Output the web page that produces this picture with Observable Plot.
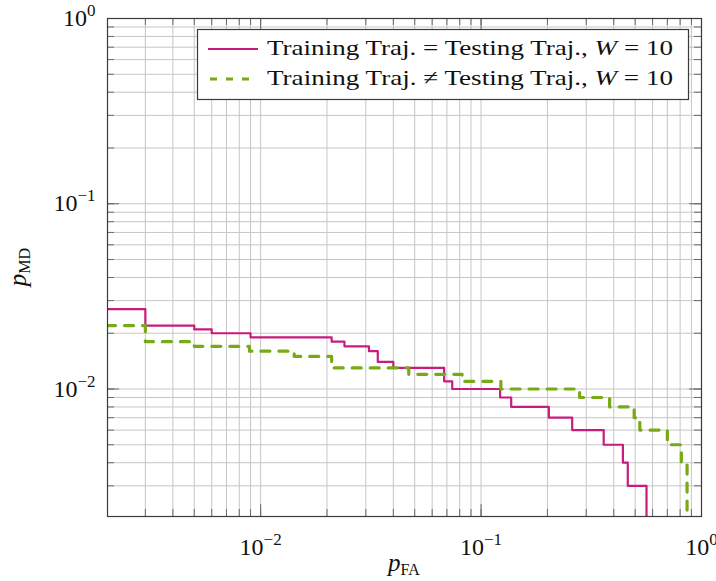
<!DOCTYPE html>
<html>
<head>
<meta charset="utf-8">
<script src="https://cdn.jsdelivr.net/npm/d3@7"></script>
<script src="https://cdn.jsdelivr.net/npm/@observablehq/plot@0.6"></script>
<style>
  html, body { margin: 0; padding: 0; background: #fff; }
  #chart { width: 716px; height: 581px; }
</style>
</head>
<body>
<div id="chart"></div>
<script>
// ---- data ----
const pfaSame = [0.002, 0.003, 0.005, 0.006, 0.009, 0.021, 0.024, 0.031, 0.034, 0.040, 0.068, 0.074, 0.122, 0.137, 0.203, 0.259, 0.36, 0.44, 0.463, 0.563];
const pmdSame = [0.027, 0.022, 0.021, 0.020, 0.019, 0.018, 0.017, 0.016, 0.014, 0.013, 0.011, 0.010, 0.009, 0.008, 0.007, 0.006, 0.005, 0.004, 0.003, 0.002];
const pfaDiff = [0.002, 0.003, 0.005, 0.0089, 0.0142, 0.021, 0.047, 0.082, 0.123, 0.28, 0.383, 0.495, 0.525, 0.70, 0.81, 0.86];
const pmdDiff = [0.022, 0.018, 0.017, 0.016, 0.015, 0.013, 0.012, 0.011, 0.010, 0.009, 0.008, 0.007, 0.006, 0.005, 0.004, 0.002];
const seriesNames = ["Training Traj. = Testing Traj., ", "Training Traj. \u2260 Testing Traj., "];
const seriesSuffix = ["W", " = 10"];
const majorTicks = [0.01, 0.1, 1];
const xDomain = [0.00202, 1];
const yDomain = [0.00205, 1];
const xLabel = ["p", "FA"];
const yLabel = ["p", "MD"];

// ---- styling ----
const W = 716, H = 581;
const mL = 107, mR = 15, mT = 18, mB = 65;
const pw = W - mL - mR, ph = H - mT - mB;
const colSame = "#c91b7d", colDiff = "#77aa14";
const gridColor = "#c6c6c6", tickColor = "#6a6a6a", frameColor = "#3a3a3a";
const font = "'Liberation Serif', 'DejaVu Serif', serif";

// grid values (1..9 x 10^e)
const gridX = [], gridY = [];
for (let e = -3; e <= 0; e++) for (let k = 1; k <= 9; k++) {
  const v = +(k * Math.pow(10, e)).toPrecision(6);
  if (v >= xDomain[0] && v <= xDomain[1]) gridX.push(v);
  if (v >= yDomain[0] && v <= yDomain[1]) gridY.push(v);
}

const rowsSame = pfaSame.map((x, i) => ({x, y: pmdSame[i]}));
const rowsDiff = pfaDiff.map((x, i) => ({x, y: pmdDiff[i]}));
const fmt = d => `10^${Math.round(Math.log10(d))}`;

const chart = Plot.plot({
  width: W, height: H,
  marginLeft: mL, marginRight: mR, marginTop: mT, marginBottom: mB,
  style: {fontFamily: font, background: "#fff", color: "#111"},
  x: {type: "log", domain: xDomain, label: null},
  y: {type: "log", domain: yDomain, label: null},
  marks: [
    Plot.ruleX(gridX, {stroke: gridColor, strokeWidth: 1}),
    Plot.ruleY(gridY, {stroke: gridColor, strokeWidth: 1}),
    // minor ticks (inside, all four sides)
    Plot.ruleX(gridX, {stroke: tickColor, insetTop: ph - 7}),
    Plot.ruleX(gridX, {stroke: tickColor, insetBottom: ph - 7}),
    Plot.ruleY(gridY, {stroke: tickColor, insetRight: pw - 7}),
    Plot.ruleY(gridY, {stroke: tickColor, insetLeft: pw - 7}),
    // major ticks
    Plot.ruleX(majorTicks, {stroke: tickColor, insetTop: ph - 12}),
    Plot.ruleX(majorTicks, {stroke: tickColor, insetBottom: ph - 12}),
    Plot.ruleY(majorTicks, {stroke: tickColor, insetRight: pw - 12}),
    Plot.ruleY(majorTicks, {stroke: tickColor, insetLeft: pw - 12}),
    Plot.line(rowsSame, {x: "x", y: "y", curve: "step-after", stroke: colSame, strokeWidth: 2.2, clip: true}),
    Plot.line(rowsDiff, {x: "x", y: "y", curve: "step-after", stroke: colDiff, strokeWidth: 3.2, strokeDasharray: "9,9", clip: true}),
    Plot.frame({stroke: frameColor, strokeWidth: 1.2}),
    Plot.axisX({ticks: majorTicks, tickSize: 0, tickPadding: 21, tickFormat: fmt, fontSize: 24, label: null}),
    Plot.axisY({ticks: majorTicks, tickSize: 0, tickPadding: 12, tickFormat: fmt, fontSize: 24, label: null})
  ]
});
document.getElementById("chart").appendChild(chart);

const svg = d3.select(chart);
// superscript exponents on tick labels
svg.selectAll('g[aria-label="x-axis tick label"] text, g[aria-label="y-axis tick label"] text').each(function() {
  const t = d3.select(this);
  const s = t.text();
  const m = s.match(/^10\^(-?\d+)$/);
  if (!m) return;
  t.text("");
  t.append("tspan").text("10");
  t.append("tspan").attr("dy", -10).attr("font-size", 17).text(m[1].replace("-", "\u2212"));
});

// axis labels
const xl = svg.append("text").attr("x", mL + pw / 2).attr("y", 571).attr("text-anchor", "middle")
  .attr("font-family", font).attr("font-size", 25).attr("fill", "#111");
xl.append("tspan").attr("font-style", "italic").text(xLabel[0]);
xl.append("tspan").attr("font-size", 16).attr("dy", 4).text(xLabel[1]);

const yl = svg.append("text").attr("transform", `translate(26,${mT + ph / 2}) rotate(-90)`).attr("text-anchor", "middle")
  .attr("font-family", font).attr("font-size", 25).attr("fill", "#111");
yl.append("tspan").attr("font-style", "italic").text(yLabel[0]);
yl.append("tspan").attr("font-size", 16).attr("dy", 4).text(yLabel[1]);

// legend
const lg = svg.append("g");
lg.append("rect").attr("x", 197.5).attr("y", 29.5).attr("width", 491).attr("height", 70)
  .attr("fill", "#fff").attr("stroke", frameColor).attr("stroke-width", 1.2);
const legendRows = [
  {y: 49, color: colSame, width: 2.2, dash: null},
  {y: 79, color: colDiff, width: 3.2, dash: "7,9"}
];
legendRows.forEach((r, i) => {
  lg.append("line").attr("x1", i ? 210 : 208).attr("x2", i ? 251 : 258).attr("y1", r.y).attr("y2", r.y)
    .attr("stroke", r.color).attr("stroke-width", r.width).attr("stroke-dasharray", r.dash);
  const t = lg.append("text").attr("x", 267).attr("y", r.y + 6).attr("text-anchor", "start")
    .attr("font-family", font).attr("font-size", 22)
    .attr("fill", "#111").attr("textLength", 406).attr("lengthAdjust", "spacingAndGlyphs");
  t.append("tspan").text(seriesNames[i]);
  t.append("tspan").attr("font-style", "italic").text(seriesSuffix[0]);
  t.append("tspan").text(seriesSuffix[1]);
});
</script>
</body>
</html>
